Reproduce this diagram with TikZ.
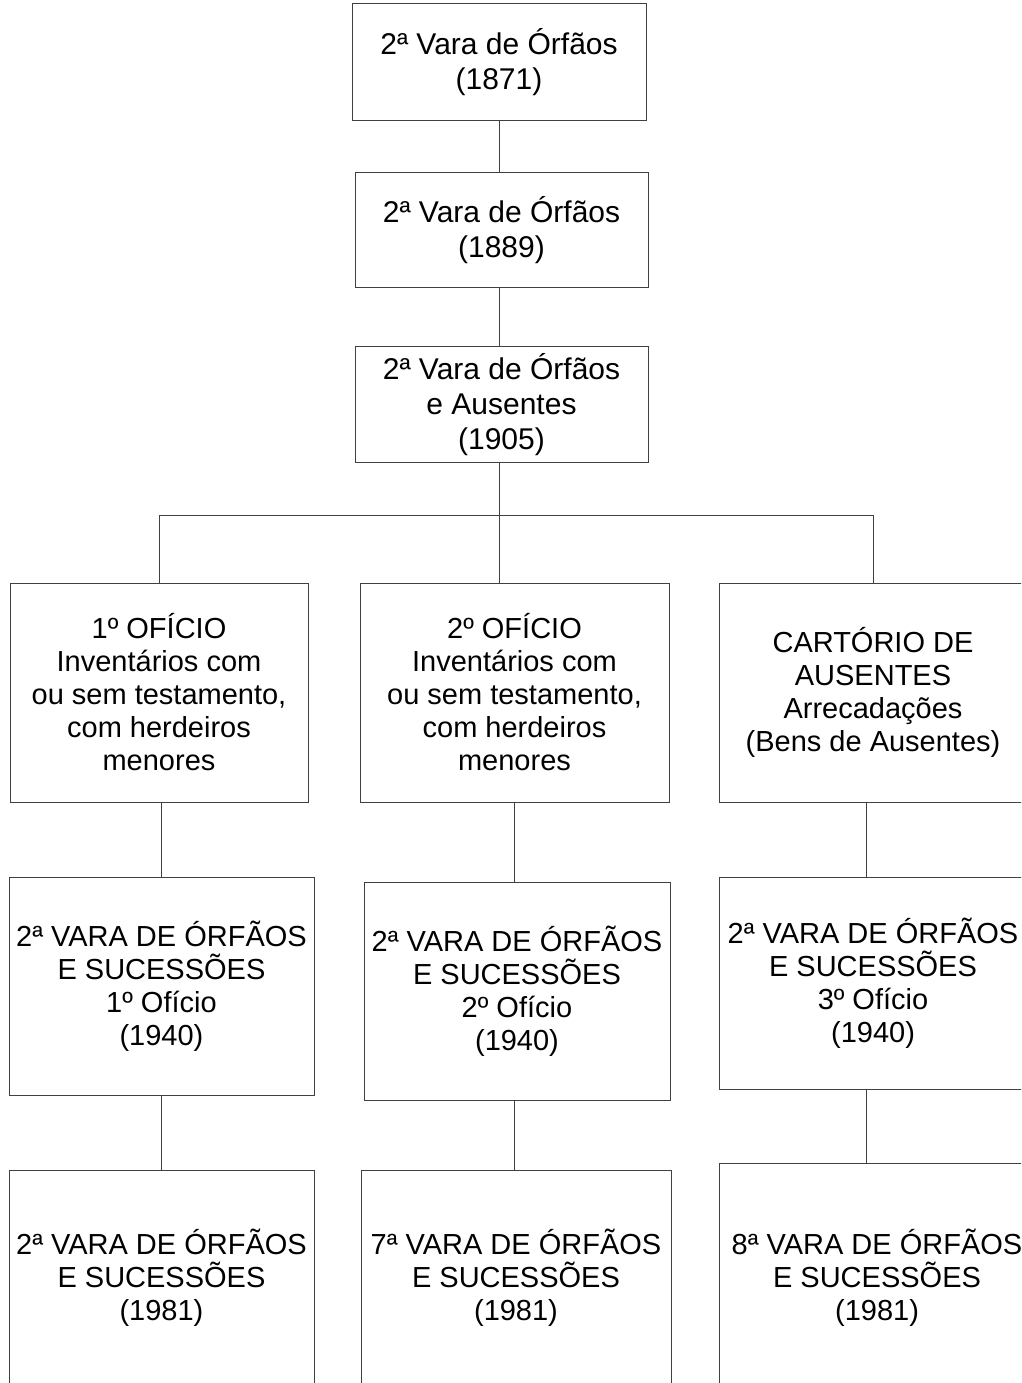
\documentclass[tikz,border=0pt]{standalone}
\usepackage{fontspec}
\setmainfont{Liberation Sans}
\begin{document}
\begin{tikzpicture}[x=0.75pt,y=-0.75pt,
  boxbase/.style={draw=black!75,line width=0.75pt,fill=white,inner sep=0pt,align=center,anchor=center},
  topbox/.style={boxbase,font=\fontsize{22.5}{26.25}\selectfont},
  lowbox/.style={boxbase,font=\fontsize{21.75}{24.75}\selectfont},
  sz/.style 2 args={minimum width={#1*0.75pt},minimum height={#2*0.75pt}},
  conn/.style={draw=black!75,line width=0.75pt}]
\useasboundingbox (0,0) rectangle (1021,1383);
\clip (0,0) rectangle (1021,1383);
\fill[white] (0,0) rectangle (1021,1383);
% top chain
\node[topbox,sz={294}{117}] (b1) at (499,62.5) {2ª Vara de Órfãos\\(1871)};
\node[topbox,sz={293}{115}] (b2) at (501.5,230.5) {2ª Vara de Órfãos\\(1889)};
\node[topbox,sz={293}{115}] (b3) at (501.5,404.5) {2ª Vara de Órfãos\\e Ausentes\\(1905)};
% row 4
\node[lowbox,sz={298}{219}] (r4l) at (159,692.5) {1º OFÍCIO\\Inventários com\\ou sem testamento,\\com herdeiros\\menores};
\node[lowbox,sz={309}{219}] (r4m) at (514.5,692.5) {2º OFÍCIO\\Inventários com\\ou sem testamento,\\com herdeiros\\menores};
\node[lowbox,sz={308}{219}] (r4r) at (873,692.5) {CARTÓRIO DE\\AUSENTES\\Arrecadações\\(Bens de Ausentes)};
% row 5
\node[lowbox,sz={305}{218}] (r5l) at (161.5,986) {2ª VARA DE ÓRFÃOS\\E SUCESSÕES\\1º Ofício\\(1940)};
\node[lowbox,sz={306}{218}] (r5m) at (517,991) {2ª VARA DE ÓRFÃOS\\E SUCESSÕES\\2º Ofício\\(1940)};
\node[lowbox,sz={308}{212}] (r5r) at (873,983) {2ª VARA DE ÓRFÃOS\\E SUCESSÕES\\3º Ofício\\(1940)};
% row 6
\node[lowbox,sz={305}{216}] (r6l) at (161.5,1278) {2ª VARA DE ÓRFÃOS\\E SUCESSÕES\\(1981)};
\node[lowbox,sz={310}{216}] (r6m) at (516,1278) {7ª VARA DE ÓRFÃOS\\E SUCESSÕES\\(1981)};
\node[lowbox,sz={316}{230}] (r6r) at (877,1278) {8ª VARA DE ÓRFÃOS\\E SUCESSÕES\\(1981)};
% connectors
\coordinate (rc) at (866,0);
\path[conn] (b1.south) -- (b1.south |- b2.north);
\path[conn] (b2.south -| b1.south) -- (b3.north -| b1.south);
\path[conn] (b3.south -| b1.south) -- (r4m.north -| b1.south);
\path[conn] (r4l.north) -- ++(0,-67) -| (r4r.north);
\path[conn] (r5l.north |- r4l.south) -- (r5l.north);
\path[conn] (r5l.south) -- (r6l.north);
\path[conn] (r4m.south) -- (r4m.south |- r5m.north);
\path[conn] (r5m.south -| r4m.south) -- (r6m.north -| r4m.south);
\path[conn] (r4r.south -| rc) -- (r5r.north -| rc);
\path[conn] (r5r.south -| rc) -- (r6r.north -| rc);
\end{tikzpicture}
\end{document}
